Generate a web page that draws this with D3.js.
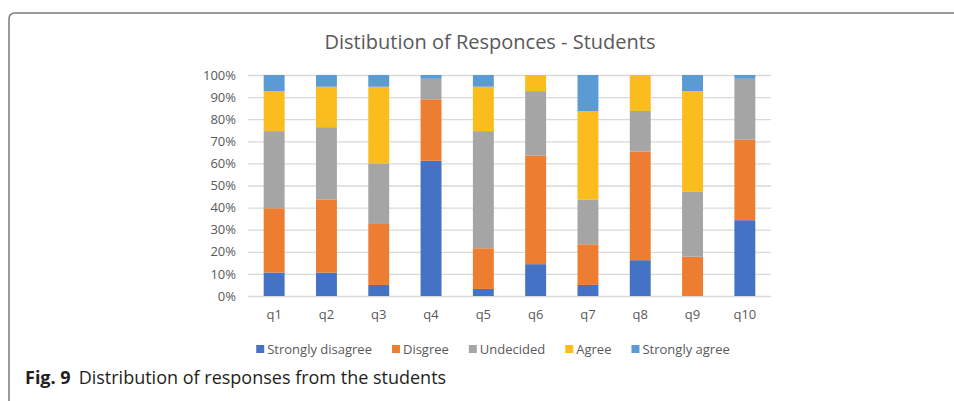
<!DOCTYPE html>
<html>
<head>
<meta charset="utf-8">
<script src="https://cdn.jsdelivr.net/npm/d3@7"></script>
<style>
  body { margin: 0; background: #fff; }
  svg { display: block; }
  text { font-family: "Open Sans", "Noto Sans", sans-serif; }
</style>
</head>
<body>
<svg id="chart" width="954" height="401"></svg>
<script>
const categories = ["q1","q2","q3","q4","q5","q6","q7","q8","q9","q10"];
const seriesNames = ["Strongly disagree","Disgree","Undecided","Agree","Strongly agree"];
const stronglyDisagree = [10.6,10.6,5.0,61.2,3.2,14.4,5.0,16.2,0,34.3];
const disagree         = [29.1,33.1,27.6,27.8,18.4,49.2,18.4,49.2,17.8,36.5];
const undecided        = [34.9,32.7,27.4,9.3,53.0,29.1,20.3,18.3,29.3,27.5];
const agree            = [18.1,18.3,34.7,0,20.1,7.3,40.0,16.3,45.6,0];
const stronglyAgree    = [7.3,5.3,5.3,1.7,5.3,0,16.3,0,7.3,1.7];
const yTicks = [0,10,20,30,40,50,60,70,80,90,100];
const colors = ["#4472C4","#ED7D31","#A5A5A5","#FBBD1E","#5B9BD5"];

const seriesValues = [stronglyDisagree, disagree, undecided, agree, stronglyAgree];
const rows = categories.map((c, i) => {
  const r = { cat: c };
  seriesNames.forEach((s, j) => r[s] = seriesValues[j][i]);
  return r;
});

const svg = d3.select("#chart");

// frame
svg.append("path")
  .attr("d", "M9,401 V19 Q9,13 15,13 H954")
  .attr("fill", "none").attr("stroke", "#7a7a7a").attr("stroke-width", 1.5);

const x = d3.scaleBand().domain(categories).range([248, 771]).paddingInner(0.6).paddingOuter(0.3);
const y = d3.scaleLinear().domain([0, 100]).range([296, 75]);

// title
svg.append("text").attr("x", 490).attr("y", 49).attr("text-anchor", "middle")
  .attr("font-size", 20).attr("fill", "#595959").text("Distibution of Responces - Students");

// gridlines
svg.append("g").selectAll("line").data(yTicks).join("line")
  .attr("x1", 248).attr("x2", 771)
  .attr("y1", d => y(d) + 0.5).attr("y2", d => y(d) + 0.5)
  .attr("stroke", "#d9d9d9").attr("stroke-width", 1.3);

// y axis
const yAxis = svg.append("g").attr("transform", "translate(248,0)")
  .call(d3.axisLeft(y).tickValues(yTicks).tickFormat(d => d + "%").tickSize(0).tickPadding(12));
yAxis.select(".domain").remove();
yAxis.selectAll("text").attr("font-size", 13).attr("fill", "#595959")
  .style("font-family", '"Open Sans", sans-serif');

// bars
const stack = d3.stack().keys(seriesNames);
const stacked = stack(rows);
svg.append("g").selectAll("g").data(stacked).join("g")
  .attr("fill", (d, i) => colors[i])
  .selectAll("rect").data(d => d).join("rect")
  .attr("x", d => x(d.data.cat))
  .attr("width", x.bandwidth())
  .attr("y", d => y(d[1]))
  .attr("height", d => y(d[0]) - y(d[1]));

// x axis
const xAxis = svg.append("g").attr("transform", "translate(0,296)")
  .call(d3.axisBottom(x).tickSize(0).tickPadding(14));
xAxis.select(".domain").remove();
xAxis.selectAll("text").attr("font-size", 13).attr("fill", "#595959")
  .style("font-family", '"Open Sans", sans-serif');

// legend
const legend = svg.append("g");
const items = legend.selectAll("g").data(seriesNames).join("g");
items.append("rect").attr("width", 8).attr("height", 8).attr("y", -9)
  .attr("fill", (d, i) => colors[i]);
items.append("text").attr("x", 11).attr("font-size", 13).attr("fill", "#595959").text(d => d);
let cx = 0;
const gap = 20;
items.each(function () {
  const w = 11 + this.querySelector("text").getComputedTextLength();
  d3.select(this).attr("transform", `translate(${cx},354)`);
  cx += w + gap;
});
const total = cx - gap;
legend.attr("transform", `translate(${493 - total / 2},0)`);

// caption
const cap = svg.append("text").attr("x", 25).attr("y", 384).attr("font-size", 18).attr("fill", "#231f20");
cap.append("tspan").attr("font-weight", "bold").text("Fig. 9");
cap.append("tspan").attr("dx", 8).text("Distribution of responses from the students");
</script>
</body>
</html>
